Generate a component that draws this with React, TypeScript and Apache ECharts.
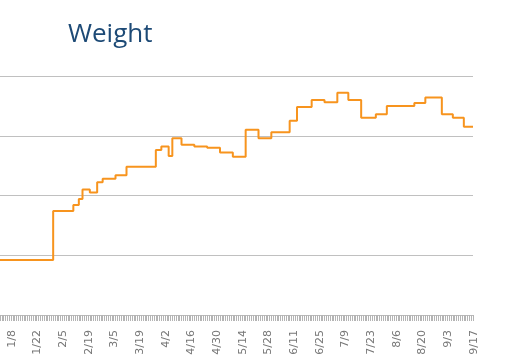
import React, { useEffect, useRef } from "react";
import * as echarts from "echarts";

// change points of the weight series (value holds until the next date)
const changeDates = [
  "1/2", "1/31", "2/11", "2/14", "2/16", "2/20", "2/24", "2/27", "3/6", "3/12",
  "3/28", "3/31", "4/4", "4/6", "4/11", "4/18", "4/25", "5/2", "5/9", "5/16",
  "5/23", "5/30", "6/9", "6/13", "6/21", "6/28", "7/5", "7/11", "7/18", "7/26",
  "8/1", "8/16", "8/22", "8/31", "9/6", "9/12", "9/17",
];
const weights = [
  64.6, 68.7, 69.2, 69.7, 70.5, 70.25, 71.1, 71.4, 71.7, 72.4,
  73.8, 74.1, 73.3, 74.8, 74.25, 74.1, 74.0, 73.6, 73.25, 75.5,
  74.8, 75.3, 76.25, 77.4, 78.0, 77.8, 78.6, 78.0, 76.5, 76.8,
  77.5, 77.75, 78.2, 76.8, 76.5, 75.75, 75.75,
];

// daily category axis from Jan 2 to Sep 17 (2013)
const startDate = new Date(2013, 0, 2);
const endDate = new Date(2013, 8, 17);
const dayLabels: string[] = [];
for (let d = new Date(startDate); d <= endDate; d.setDate(d.getDate() + 1)) {
  dayLabels.push(`${d.getMonth() + 1}/${d.getDate()}`);
}
const firstLabelIndex = 6; // 1/8
const labelStep = 14;

const yMin = 60;
const yMax = 80;
const yInterval = 5;

export default function App() {
  const ref = useRef<HTMLDivElement>(null);
  useEffect(() => {
    if (!ref.current) return;
    const chart = echarts.init(ref.current, null, { renderer: "svg" });
    chart.setOption({
      animation: false,
      title: {
        text: "Weight",
        left: 63,
        top: 14,
        textStyle: {
          fontFamily: "Open Sans",
          fontSize: 26,
          fontWeight: "normal",
          color: "#1d4a76",
        },
      },
      grid: { left: 0, right: 34, top: 76, bottom: 48, containLabel: false },
      xAxis: {
        type: "category",
        data: dayLabels,
        boundaryGap: false,
        axisLine: { show: true, lineStyle: { color: "#bbbbbb", width: 1 } },
        axisTick: {
          show: true,
          interval: () => true,
          length: 6,
          lineStyle: { color: "#b4b4b4", width: 1 },
        },
        axisLabel: {
          interval: (i: number) => i >= firstLabelIndex && (i - firstLabelIndex) % labelStep === 0,
          rotate: 90,
          margin: 15,
          fontFamily: "DejaVu Sans",
          fontSize: 11,
          color: "#777777",
        },
        splitLine: { show: false },
      },
      yAxis: {
        type: "value",
        min: yMin,
        max: yMax,
        interval: yInterval,
        axisLabel: { show: false },
        axisLine: { show: false },
        axisTick: { show: false },
        splitLine: { show: true, lineStyle: { color: "#c0c0c0", width: 1 } },
      },
      series: [
        {
          type: "line",
          step: "end",
          symbol: "none",
          data: changeDates.map((d, i) => [d, weights[i]]),
          lineStyle: { color: "#f7941e", width: 2 },
        },
      ],
    });
    return () => chart.dispose();
  }, []);
  return (
    <div
      ref={ref}
      style={{ position: "fixed", left: 0, top: 0, width: 507, height: 363 }}
    />
  );
}
